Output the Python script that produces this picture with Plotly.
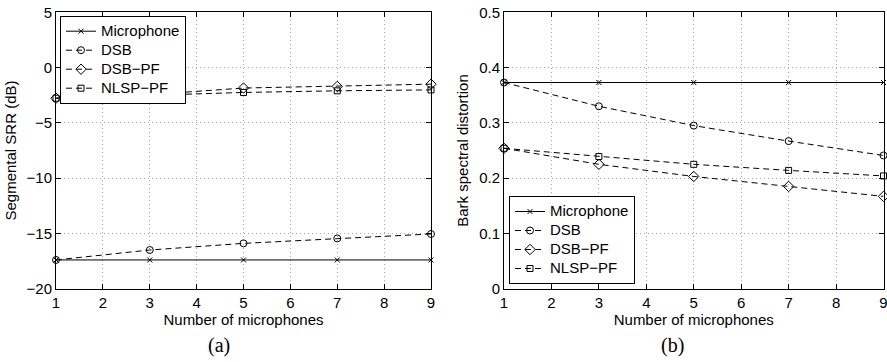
import plotly.graph_objects as go

W, H = 887, 362

# Data: number of microphones and per-method results
mics = [1, 3, 5, 7, 9]
methods = ["Microphone", "DSB", "DSB\u2212PF", "NLSP\u2212PF"]

srr_microphone = [-17.4, -17.4, -17.4, -17.4, -17.4]
srr_dsb = [-17.4, -16.5, -15.9, -15.45, -15.05]
srr_dsb_pf = [-2.77, -2.45, -1.85, -1.7, -1.5]
srr_nlsp_pf = [-2.77, -2.53, -2.25, -2.1, -2.02]

bsd_microphone = [0.373, 0.373, 0.373, 0.373, 0.373]
bsd_dsb = [0.373, 0.330, 0.295, 0.267, 0.241]
bsd_dsb_pf = [0.254, 0.225, 0.203, 0.185, 0.167]
bsd_nlsp_pf = [0.254, 0.239, 0.225, 0.214, 0.204]

styles = [
    dict(dash="solid", symbol="x-thin-open", size=5),
    dict(dash="6px,4px", symbol="circle-open", size=7),
    dict(dash="6px,4px", symbol="diamond-open", size=8),
    dict(dash="6px,4px", symbol="square-open", size=6),
]

FONT = "Liberation Sans, Arial, Helvetica, sans-serif"
SERIF = "Liberation Serif, Times New Roman, serif"


def px_x(p):
    return p / W


def px_y(p):
    return 1 - p / H


def legend_label(text):
    # larger label text while keeping compact legend rows
    return '<span style="font-size:15px">' + text + "</span>"


fig = go.Figure()

panels = [
    ("x", "y", "legend", [srr_microphone, srr_dsb, srr_dsb_pf, srr_nlsp_pf]),
    ("x2", "y2", "legend2", [bsd_microphone, bsd_dsb, bsd_dsb_pf, bsd_nlsp_pf]),
]
for xa, ya, lg, series in panels:
    for name, vals, st in zip(methods, series, styles):
        fig.add_trace(go.Scatter(
            x=mics, y=vals, name=legend_label(name), xaxis=xa, yaxis=ya, legend=lg,
            mode="lines+markers", cliponaxis=False,
            line=dict(color="black", width=1, dash=st["dash"]),
            marker=dict(symbol=st["symbol"], size=st["size"], color="black",
                        line=dict(color="black", width=1)),
        ))

axis_common = dict(
    showline=True, linecolor="black", linewidth=1, mirror="ticks",
    ticks="inside", ticklen=5, tickcolor="black",
    showgrid=True, gridcolor="#a8a8a8", griddash="1px,3px", gridwidth=1,
    zeroline=False, automargin=False, ticklabeloverflow="allow",
    tickfont=dict(family=FONT, size=15, color="black"),
    title_font=dict(family=FONT, size=15, color="black"),
)

x_dom1 = [px_x(56), px_x(431)]
x_dom2 = [px_x(504), px_x(883.5)]
y_dom = [px_y(288.7), px_y(12.3)]

legend_common = dict(
    bgcolor="white", bordercolor="black", borderwidth=1,
    font=dict(family=FONT, size=12, color="black"),
    xanchor="left", tracegroupgap=0, itemwidth=30,
)

fig.update_layout(
    width=W, height=H,
    margin=dict(l=0, r=0, t=0, b=0, pad=0, autoexpand=False),
    paper_bgcolor="white", plot_bgcolor="white",
    showlegend=True,
    xaxis=dict(domain=x_dom1, anchor="y", range=[1, 9], dtick=1,
               title=dict(text="Number of microphones", standoff=2), **axis_common),
    yaxis=dict(domain=y_dom, anchor="x", range=[-20, 5], dtick=5,
               title=dict(text="Segmental SRR (dB)", standoff=6), **axis_common),
    xaxis2=dict(domain=x_dom2, anchor="y2", range=[1, 9], dtick=1,
                title=dict(text="Number of microphones", standoff=2), **axis_common),
    yaxis2=dict(domain=y_dom, anchor="x2", range=[0, 0.5], dtick=0.1,
                title=dict(text="Bark spectral distortion", standoff=6), **axis_common),
    legend=dict(x=px_x(60), y=px_y(15.7), yanchor="top", **legend_common),
    legend2=dict(x=px_x(509), y=px_y(284), yanchor="bottom", **legend_common),
    annotations=[
        dict(text="(a)", x=px_x(219), y=px_y(345.5), xref="paper", yref="paper",
             xanchor="center", yanchor="middle", showarrow=False,
             font=dict(family=SERIF, size=20, color="black")),
        dict(text="(b)", x=px_x(672), y=px_y(345.5), xref="paper", yref="paper",
             xanchor="center", yanchor="middle", showarrow=False,
             font=dict(family=SERIF, size=20, color="black")),
    ],
)

fig.write_html("out.html")
